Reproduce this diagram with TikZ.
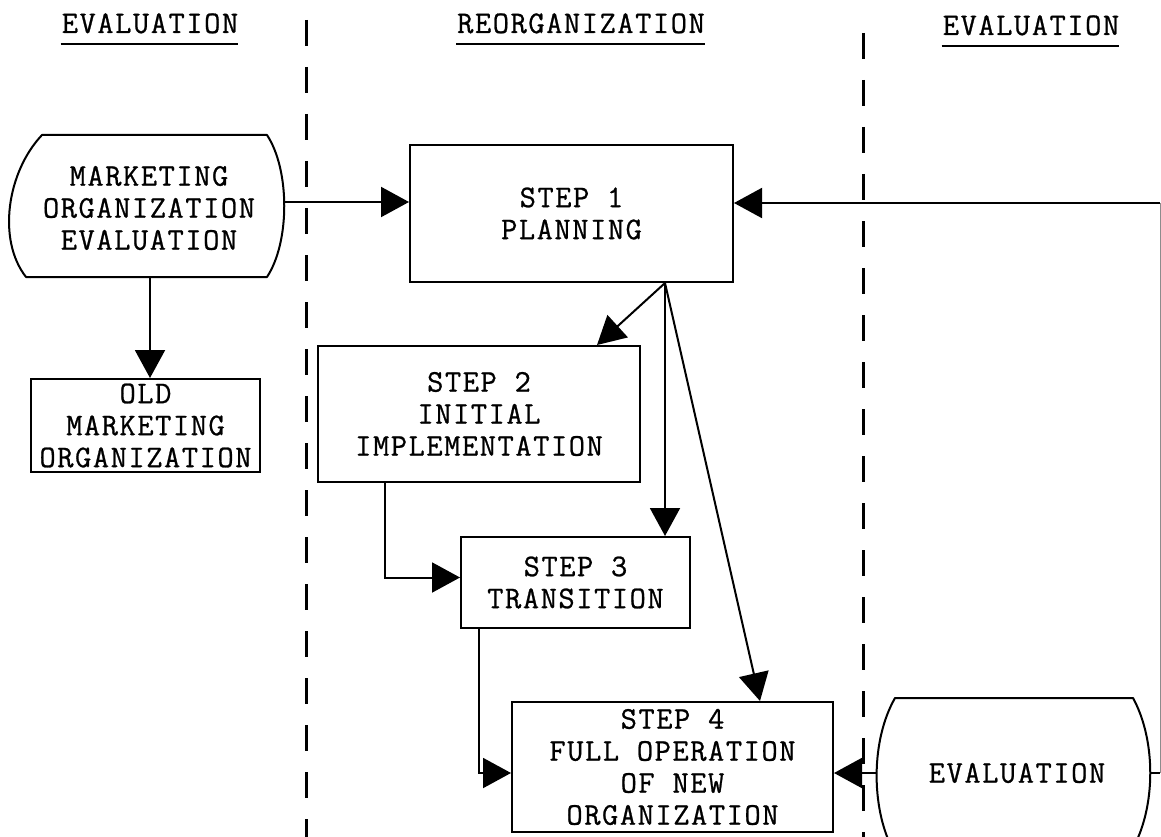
\documentclass[tikz,border=0pt]{standalone}
\usepackage{fontspec}
\newfontfamily\typewriter{Latin Modern Mono}[LetterSpace=5, FakeBold=0.8]
\usetikzlibrary{arrows.meta,calc}

\tikzset{
  lbl/.style={font=\typewriter\fontsize{31.5}{32}\selectfont, align=center, inner sep=0pt},
  box/.style={lbl, draw, line width=2pt},
  shapetext/.style={lbl},
  outline/.style={draw, line width=2pt, line join=round},
  arr/.style={line width=2pt, -{Triangle[length=28pt, width=30pt]}},
  conn/.style={line width=2pt},
  divider/.style={line width=3pt, dash pattern=on 26pt off 21pt},
  uline/.style={line width=2.2pt},
}

\begin{document}
\begin{tikzpicture}[x=1pt, y=-1pt]
  \useasboundingbox (0,0) rectangle (1161,837);
  \clip (0,0) rectangle (1161,837);

  % phase headings
  \node[lbl, anchor=base] (h1) at (150,33) {EVALUATION};
  \node[lbl, anchor=base] (h2) at (581,33) {REORGANIZATION};
  \node[lbl, anchor=base] (h3) at (1031,35) {EVALUATION};
  \foreach \h in {h1,h2,h3}
    \draw[uline] ([yshift=-11pt, xshift=-1pt]\h.base west) -- ([yshift=-11pt]\h.base east);

  % phase dividers
  \coordinate (d1top) at (306,20);
  \coordinate (d1bot) at (306,837);
  \coordinate (d2top) at (863,33);
  \coordinate (d2bot) at (863,837);
  \draw[divider] (d1top) -- (d1bot);
  \draw[divider] (d2top) -- (d2bot);

  % terminal: marketing organization evaluation
  \node[shapetext, minimum width=274pt, minimum height=142pt] (mkt) at (149,208)
    {MARKETING\\ORGANIZATION\\EVALUATION};
  \draw[outline] (42,135) -- (267,135)
    .. controls (290,170) and (290,242) .. (267,277)
    -- (26,277)
    .. controls (-3,240) and (7,172) .. cycle;
  \coordinate (mktE) at (284,202);
  \coordinate (mktS) at (150,277);

  % process boxes
  \node[box, minimum width=323pt, minimum height=137pt] (step1) at (571.5,213.5) {STEP 1\\PLANNING};
  \node[box, minimum width=229pt, minimum height=93pt] (old) at (145.5,425.5) {OLD\\MARKETING\\ORGANIZATION};
  \node[box, minimum width=322pt, minimum height=136pt] (step2) at (479,414) {STEP 2\\INITIAL\\IMPLEMENTATION};
  \node[box, minimum width=229pt, minimum height=91pt] (step3) at (575.5,582.5) {STEP 3\\TRANSITION};
  \node[box, minimum width=321pt, minimum height=130pt] (step4) at (672.5,767) {STEP 4\\FULL OPERATION\\OF NEW\\ORGANIZATION};

  % terminal: evaluation
  \node[shapetext, minimum width=273pt, minimum height=150pt] (eval) at (1017,773) {EVALUATION};
  \draw[outline] (895,698) -- (1133,698)
    .. controls (1156,740) and (1156,806) .. (1133,848)
    -- (892,848)
    .. controls (871,806) and (871,740) .. cycle;
  \coordinate (evalW) at (877,773);
  \coordinate (evalE) at (1150,773);

  % feedback loop along the right edge
  \coordinate (loopB) at (1160,773);
  \coordinate (loopT) at (1160,203);

  % connectors
  \draw[arr] (mktE) -- (mktE -| step1.west);
  \draw[arr] (mktS) -- (mktS |- old.north);
  \coordinate (fan) at (665,283);
  \draw[arr] (fan) -- ([xshift=118pt]step2.north);
  \draw[arr] (fan) -- (fan |- step3.north);
  \draw[arr] (fan) -- ([xshift=87.5pt]step4.north);
  \draw[arr] ([xshift=-94pt]step2.south) |- ([yshift=5pt]step3.west);
  \draw[arr] ([xshift=-96.5pt]step3.south) |- ([yshift=-6pt]step4.west);
  \draw[arr] (evalW) -- (evalW -| step4.east);
  \draw[conn] (evalE) -- (loopB);
  \draw[line width=1pt, black!45] (loopB) -- (loopT);
  \draw[arr] (loopT) -- (loopT -| step1.east);
\end{tikzpicture}
\end{document}
